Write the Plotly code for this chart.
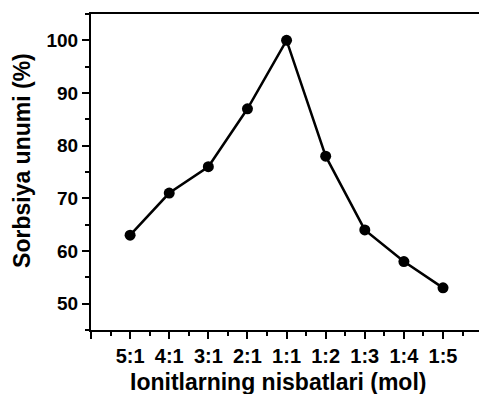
import plotly.graph_objects as go

# Ion ratios (mol) and sorption yield (%)
ratios = ["5:1", "4:1", "3:1", "2:1", "1:1", "1:2", "1:3", "1:4", "1:5"]
yield_pct = [63, 71, 76, 87, 100, 78, 64, 58, 53]
positions = list(range(1, len(ratios) + 1))

y_ticks = [50, 60, 70, 80, 90, 100]

x_title = "Ionitlarning nisbatlari (mol)"
y_title = "Sorbsiya unumi (%)"

font_family = "Liberation Sans, Arial, sans-serif"

fig = go.Figure()
fig.add_trace(go.Scatter(
    x=positions,
    y=yield_pct,
    mode="lines+markers",
    line=dict(color="black", width=2.5),
    marker=dict(color="black", size=11),
    showlegend=False,
))

fig.update_layout(
    width=479,
    height=394,
    margin=dict(l=91, r=0, t=14, b=64),
    paper_bgcolor="white",
    plot_bgcolor="white",
    font=dict(family=font_family, color="black"),
)

fig.update_xaxes(
    range=[0, 9.92],
    tickmode="array",
    tickvals=[0] + positions,
    ticktext=[""] + ratios,
    ticks="outside",
    ticklen=7,
    tickwidth=2,
    tickcolor="black",
    tickfont=dict(size=20, family=font_family, color="black", weight="bold"),
    minor=dict(dtick=0.5, tick0=0, ticks="outside", ticklen=4, tickwidth=2, tickcolor="black"),
    showline=True,
    linecolor="black",
    linewidth=2,
    mirror=True,
    showgrid=False,
    zeroline=False,
)

fig.update_yaxes(
    range=[45, 105],
    tickmode="array",
    tickvals=y_ticks,
    ticks="outside",
    ticklen=7,
    tickwidth=2,
    tickcolor="black",
    tickfont=dict(size=19, family=font_family, color="black", weight="bold"),
    minor=dict(dtick=5, tick0=45, ticks="outside", ticklen=4, tickwidth=2, tickcolor="black"),
    showline=True,
    linecolor="black",
    linewidth=2,
    mirror=False,
    showgrid=False,
    zeroline=False,
)

# Axis titles
fig.add_annotation(
    text=f"<b>{x_title}</b>", xref="paper", yref="paper",
    x=0.482, y=-0.165, xanchor="center", yanchor="middle",
    showarrow=False, font=dict(size=23, family=font_family, color="black"),
)
fig.add_annotation(
    text=f"<b>{y_title}</b>", xref="paper", yref="paper",
    x=-0.178, y=0.538, xanchor="center", yanchor="middle", textangle=-90,
    showarrow=False, font=dict(size=23, family=font_family, color="black"),
)

fig.write_html("out.html")
